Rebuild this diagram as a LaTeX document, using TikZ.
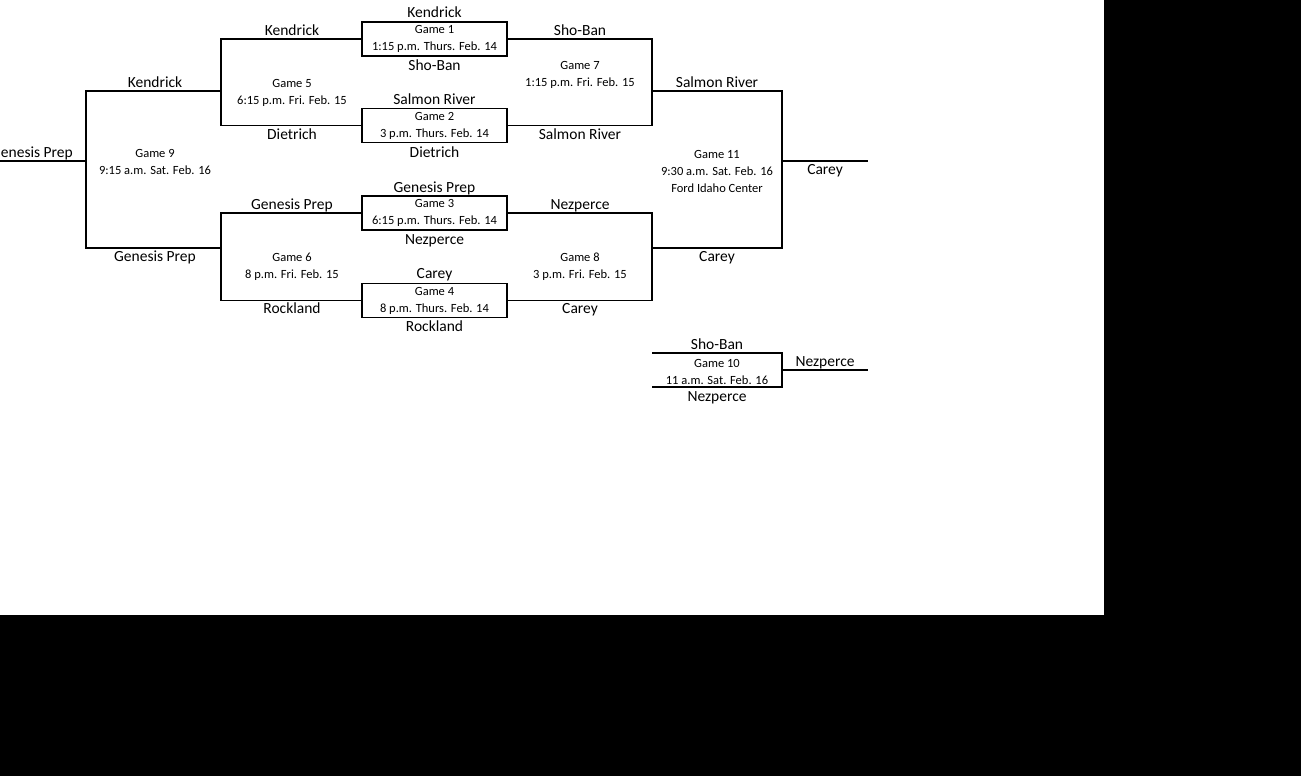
\documentclass[tikz,border=0pt]{standalone}
\usepackage{fontspec}
\setmainfont{Carlito}
\usepackage{tikz}

\begin{document}
\begin{tikzpicture}[x=1pt, y=-1pt,
  gbox/.style={draw, line width=1.8pt, minimum width=145pt, minimum height=34pt, inner sep=0pt, align=center, font=\fontsize{12.5}{17}\selectfont},
  info/.style={align=center, inner sep=0pt, font=\fontsize{12.5}{17}\selectfont},
  team/.style={anchor=base, inner sep=0pt, font=\fontsize{15.5}{18}\selectfont},
  bline/.style={line width=1.8pt}
]
  \useasboundingbox (0,0) rectangle (1301,776);
  \fill[black] (0,0) rectangle (1301,776);
  \fill[white] (0,0) rectangle (1104,615);

  % first round
  \node[gbox] (g1) at (434.5,39) {Game 1\\1:15 p.m. Thurs. Feb. 14};
  \node[gbox] (g2) at (434.5,125.5) {Game 2\\3 p.m. Thurs. Feb. 14};
  \node[gbox] (g3) at (434.5,213) {Game 3\\6:15 p.m. Thurs. Feb. 14};
  \node[gbox] (g4) at (434.5,300.5) {Game 4\\8 p.m. Thurs. Feb. 14};

  \coordinate (g5o) at (221,91);
  \coordinate (g6o) at (221,248);
  \coordinate (g7o) at (652,91);
  \coordinate (g8o) at (652,248);
  \coordinate (g9o) at (86,161);
  \coordinate (g11o) at (782,161);
  \coordinate (w9) at (-30,161);
  \coordinate (w11) at (868,161);
  \coordinate (g10a) at (652,353);
  \coordinate (g10b) at (652,387);
  \coordinate (g10o) at (782,370);
  \coordinate (w10) at (868,370);

  % brackets
  \draw[bline] (g1.west) -| (g5o) |- (g2.west);
  \draw[bline] (g3.west) -| (g6o) |- (g4.west);
  \draw[bline] (g1.east) -| (g7o) |- (g2.east);
  \draw[bline] (g3.east) -| (g8o) |- (g4.east);
  \draw[bline] (g5o) -| (g9o) |- (g6o);
  \draw[bline] (g7o) -| (g11o) |- (g8o);
  \draw[bline] (g9o) -- (w9);
  \draw[bline] (g11o) -- (w11);
  \draw[bline] (g10a) -| (g10o) |- (g10b);
  \draw[bline] (g10o) -- (w10);

  % game info
  \node[info] (i5) at (292,92.5) {Game 5\\6:15 p.m. Fri. Feb. 15};
  \node[info] (i6) at (292,267) {Game 6\\8 p.m. Fri. Feb. 15};
  \node[info] (i7) at (580,74.5) {Game 7\\1:15 p.m. Fri. Feb. 15};
  \node[info] (i8) at (580,267) {Game 8\\3 p.m. Fri. Feb. 15};
  \node[info] (i9) at (155,162) {Game 9\\9:15 a.m. Sat. Feb. 16};
  \node[info] (i10) at (717,371.5) {Game 10\\11 a.m. Sat. Feb. 16};
  \node[info] (i11) at (717,171) {Game 11\\9:30 a.m. Sat. Feb. 16\\Ford Idaho Center};

  % teams
  \node[team] (k1) at (434.5,17.5) {Kendrick};
  \node[team] (s1) at (434.5,70.5) {Sho-Ban};
  \node[team] (sr2) at (434.5,104.5) {Salmon River};
  \node[team] (d2) at (434.5,157.5) {Dietrich};
  \node[team] (gp3) at (434.5,192.5) {Genesis Prep};
  \node[team] (nz3) at (434.5,244.5) {Nezperce};
  \node[team] (c4) at (434.5,278.5) {Carey};
  \node[team] (r4) at (434.5,331.5) {Rockland};
  \node[team] (k5) at (292,35.5) {Kendrick};
  \node[team] (d5) at (292,139.5) {Dietrich};
  \node[team] (gp6) at (292,209.5) {Genesis Prep};
  \node[team] (r6) at (292,313.5) {Rockland};
  \node[team] (s7) at (580,35.5) {Sho-Ban};
  \node[team] (sr7) at (580,139.5) {Salmon River};
  \node[team] (nz8) at (580,209.5) {Nezperce};
  \node[team] (c8) at (580,313.5) {Carey};
  \node[team] (k9) at (155,87.5) {Kendrick};
  \node[team] (gp9) at (155,261.5) {Genesis Prep};
  \node[team] (sr11) at (717,87.5) {Salmon River};
  \node[team] (c11) at (717,261.5) {Carey};
  \node[team] (gpw) at (32,157.5) {Genesis Prep};
  \node[team] (cw) at (825,174.5) {Carey};
  \node[team] (sb10) at (717,349.5) {Sho-Ban};
  \node[team] (nz10) at (717,401.5) {Nezperce};
  \node[team] (nzw) at (825,366.5) {Nezperce};
\end{tikzpicture}
\end{document}
